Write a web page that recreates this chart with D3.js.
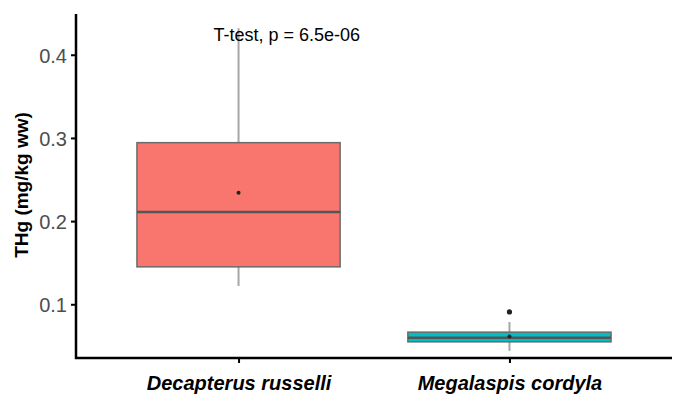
<!DOCTYPE html>
<html>
<head>
<meta charset="utf-8">
<script src="https://cdn.jsdelivr.net/npm/d3@7"></script>
<style>
  body { margin: 0; background: #fff; }
  text { font-family: "Liberation Sans", Arial, sans-serif; }
</style>
</head>
<body>
<div id="wrapper"></div>
<script>
// data
let species = ["Decapterus russelli", "Megalaspis cordyla"];
let fills = ["#F8766D", "#00BFC4"];
let q1 = [0.145, 0.0548];
let medians = [0.211, 0.0598];
let q3 = [0.2943, 0.0665];
let whiskLow = [0.122, 0.044];
let whiskHigh = [0.432, 0.0787];
let means = [0.234, 0.0612];
let outliers = [[], [0.0908]];
let yTicks = [0.1, 0.2, 0.3, 0.4];
let testLabel = "T-test, p = 6.5e-06";

let dimensions = {
  width: 678,
  height: 394,
  margin: { top: 14, right: 6, bottom: 36, left: 76 }
};

function draw() {
  dimensions.boundedWidth = dimensions.width - dimensions.margin.left - dimensions.margin.right;
  dimensions.boundedHeight = dimensions.height - dimensions.margin.top - dimensions.margin.bottom;

  let wrapper = d3.select("#wrapper")
    .append("svg")
    .attr("width", dimensions.width)
    .attr("height", dimensions.height);

  let bounds = wrapper.append("g")
    .attr("transform", `translate(${dimensions.margin.left},${dimensions.margin.top})`);

  // ggplot-style discrete scale: 0.6 units of expansion each side
  let xScale = d3.scaleLinear()
    .domain([0.4, 2.6])
    .range([0, dimensions.boundedWidth]);
  let bandUnit = xScale(2) - xScale(1);

  let yScale = d3.scaleLinear()
    .domain([0.0354, 0.449])
    .range([dimensions.boundedHeight, 0]);

  let boxes = bounds.selectAll(".box")
    .data(species)
    .join("g")
    .attr("class", "box");

  // whiskers
  boxes.append("line")
    .attr("x1", (d, i) => xScale(i + 1))
    .attr("x2", (d, i) => xScale(i + 1))
    .attr("y1", (d, i) => yScale(whiskHigh[i]))
    .attr("y2", (d, i) => yScale(whiskLow[i]))
    .attr("stroke", "#a6a6a6")
    .attr("stroke-width", 2);

  boxes.append("rect")
    .attr("x", (d, i) => xScale(i + 1) - bandUnit * 0.375)
    .attr("width", bandUnit * 0.75)
    .attr("y", (d, i) => yScale(q3[i]))
    .attr("height", (d, i) => yScale(q1[i]) - yScale(q3[i]))
    .attr("fill", (d, i) => fills[i])
    .attr("stroke", "#6b6b6b")
    .attr("stroke-width", 1.5);

  boxes.append("line")
    .attr("x1", (d, i) => xScale(i + 1) - bandUnit * 0.375)
    .attr("x2", (d, i) => xScale(i + 1) + bandUnit * 0.375)
    .attr("y1", (d, i) => yScale(medians[i]))
    .attr("y2", (d, i) => yScale(medians[i]))
    .attr("stroke", "#555")
    .attr("stroke-width", 2.5);

  boxes.append("circle")
    .attr("cx", (d, i) => xScale(i + 1))
    .attr("cy", (d, i) => yScale(means[i]))
    .attr("r", 2)
    .attr("fill", "#222");

  boxes.each(function(d, i) {
    d3.select(this).selectAll(".outlier")
      .data(outliers[i])
      .join("circle")
      .attr("class", "outlier")
      .attr("cx", xScale(i + 1))
      .attr("cy", v => yScale(v))
      .attr("r", 2.6)
      .attr("fill", "#222");
  });

  // axes
  let yAxisGenerator = d3.axisLeft(yScale)
    .tickValues(yTicks)
    .tickFormat(d3.format(".1f"))
    .tickSize(5)
    .tickPadding(4);

  let yAxis = bounds.append("g").call(yAxisGenerator);
  yAxis.select(".domain").remove();
  yAxis.selectAll(".tick line").attr("stroke", "#000").attr("stroke-width", 2);
  yAxis.selectAll(".tick text")
    .attr("fill", "#4d4d4d")
    .attr("dy", "0.38em")
    .style("font-size", "20px");

  let xAxisGenerator = d3.axisBottom(xScale)
    .tickValues([1, 2])
    .tickFormat((d, i) => species[i])
    .tickSize(5)
    .tickPadding(13);

  let xAxis = bounds.append("g")
    .attr("transform", `translate(0,${dimensions.boundedHeight})`)
    .call(xAxisGenerator);
  xAxis.select(".domain").remove();
  xAxis.selectAll(".tick line").attr("stroke", "#000").attr("stroke-width", 2);
  xAxis.selectAll(".tick text")
    .attr("fill", "#000")
    .style("font-size", "20px")
    .style("font-weight", "bold")
    .style("font-style", "italic");

  // axis lines drawn as an L
  bounds.append("path")
    .attr("d", `M0,0V${dimensions.boundedHeight}H${dimensions.boundedWidth}`)
    .attr("fill", "none")
    .attr("stroke", "#000")
    .attr("stroke-width", 2.5);

  bounds.append("text")
    .attr("transform", `translate(${-48},${171}) rotate(-90)`)
    .attr("text-anchor", "middle")
    .style("font-size", "19px")
    .style("font-weight", "bold")
    .attr("fill", "#000")
    .text("THg (mg/kg ww)");

  bounds.append("text")
    .attr("x", xScale(1) - 25)
    .attr("y", 26.5)
    .style("font-size", "18px")
    .attr("fill", "#000")
    .text(testLabel);
}

draw();
</script>
</body>
</html>
